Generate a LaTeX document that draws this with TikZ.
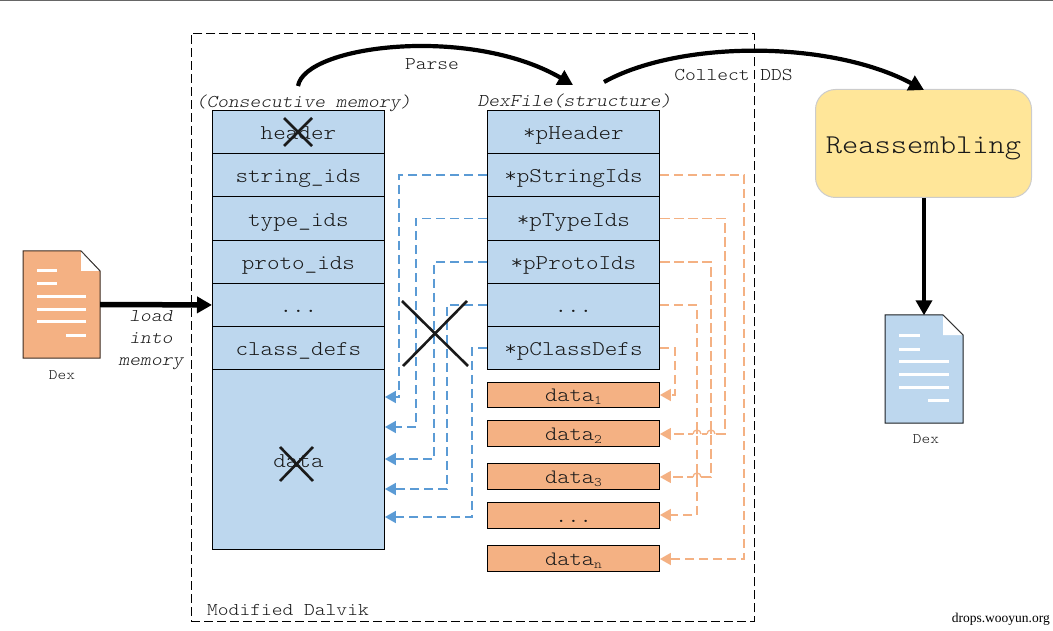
\documentclass[tikz,border=0pt]{standalone}
\usepackage{fontspec}
\setmainfont{Latin Modern Mono Light}[FakeStretch=1.14]
\newfontfamily\markfont{Liberation Serif}
\usetikzlibrary{arrows.meta,calc}
\definecolor{boxblue}{HTML}{BDD7EE}
\definecolor{boxorange}{HTML}{F4B183}
\definecolor{boxyellow}{HTML}{FFE699}
\definecolor{linkblue}{HTML}{5B9BD5}
\definecolor{inkdark}{HTML}{1A1A1A}
\newcommand{\threedots}{...}
\newcommand{\subtext}[1]{\raisebox{-3pt}{\fontsize{13}{13}\selectfont #1}}
\tikzset{
  cellbox/.style={draw=black,line width=.9pt,fill=boxblue,minimum width=172pt,inner sep=0pt,anchor=north west,text=inkdark,font=\fontsize{21}{21}\selectfont,text height=15.5pt,text depth=0pt},
  databox/.style={draw=black,line width=.9pt,fill=boxorange,minimum width=172pt,minimum height=26pt,inner sep=0pt,anchor=north west,text=inkdark,font=\fontsize{20.5}{20.5}\selectfont,text height=14pt,text depth=0pt},
  caption/.style={inner sep=0pt,text=inkdark,font=\fontsize{18}{18}\selectfont},
  heavy/.style={line width=4.2pt,-{Triangle[length=15pt,width=16pt]}},
  bluelink/.style={draw=linkblue,line width=1.8pt,dash pattern=on 9pt off 5pt,-{Triangle[length=11pt,width=12pt]}},
  orangelink/.style={draw=boxorange,line width=1.8pt,dash pattern=on 9pt off 5pt,-{Triangle[length=11pt,width=12pt]}},
  hop/.style={draw=boxorange,line width=1.3pt},
  strike/.style={draw=inkdark,line width=2.6pt},
  whitebar/.style={draw=white,line width=3pt},
  docbase/.style={draw=none,minimum width=77pt,minimum height=107pt,inner sep=0pt}
}
\begin{document}
\begin{tikzpicture}[x=1pt,y=-1pt]
\useasboundingbox (0,0) rectangle (1053,631);
\fill[gray!80!black] (0,0) rectangle (1053,1.2);
\node[draw=black,line width=.9pt,dash pattern=on 9pt off 4pt,minimum width=563pt,minimum height=588pt,inner sep=0pt,anchor=north west] (frame) at (191,33) {};
% left stack
\foreach \n/\y/\h/\t in {lhead/110/43/header,lstr/153/43/string\_ids,ltype/196/44/type\_ids,lproto/240/43/proto\_ids,ldots/283/43/\threedots,lclass/326/43/class\_defs,ldata/369/180/data}{
  \node[cellbox,minimum height=\h pt] (\n) at (212,\y) {\t};
}
% right stack
\foreach \n/\y/\h/\t in {rhead/110/43/*pHeader,rstr/153/43/*pStringIds,rtype/196/44/*pTypeIds,rproto/240/43/*pProtoIds,rdots/283/43/\threedots,rclass/326/43/*pClassDefs}{
  \node[cellbox,minimum height=\h pt] (\n) at (487,\y) {\t};
}
\node[databox,minimum height=25pt] (d1) at (487,382) {data\subtext{1}};
\node[databox] (d2) at (487,420) {data\subtext{2}};
\node[databox] (d3) at (487,463) {data\subtext{3}};
\node[databox] (d4) at (487,502) {\threedots};
\node[databox] (dn) at (487,545) {data\subtext{n}};
% captions
\node[caption,font=\fontsize{18}{18}\selectfont\itshape] (capl) at (303.5,103) {(Consecutive memory)};
\node[caption,font=\fontsize{18}{18}\selectfont\itshape] (capr) at (574.5,101) {DexFile(structure)};
\node[caption] (parse) at (432,64) {Parse};
\node[caption] (collect) at (733.5,75) {Collect DDS};
\node[caption,anchor=west] (dalvik) at (207,610) {Modified Dalvik};
\node[caption,align=center,font=\fontsize{18}{22}\selectfont\itshape] (load) at (151,340) {load\\into\\memory};
% documents
\node[docbase] (doca) at (61.5,304.5) {};
\fill[boxorange,draw=black!75!boxorange,line width=1pt] (23,251) -- (81,251) -- (100,271) -- (100,358) -- (23,358) -- cycle;
\fill[white] (81,251) -- (100,271) -- (81,271) -- cycle;
\draw[black!80,line width=.8pt] (81,251) -- (100,271);
\foreach \xa/\xb/\y in {37/57/271,37/57/284,37/86/297,37/86/310,37/86/322,66/86/335}{\draw[whitebar] (\xa,\y) -- (\xb,\y);}
\node[docbase] (docb) at (924,369) {};
\fill[boxblue,draw=black!85!boxblue,line width=1pt] (885,315) -- (943,315) -- (963,335) -- (963,423) -- (885,423) -- cycle;
\fill[white] (943,315) -- (963,335) -- (943,335) -- cycle;
\draw[black!80,line width=.8pt] (943,315) -- (963,335);
\foreach \xa/\xb/\y in {899/920/335,899/920/349,899/949/361,899/949/374,899/949/387,928/949/400}{\draw[whitebar] (\xa,\y) -- (\xb,\y);}
\node[caption,font=\fontsize{14.5}{14.5}\selectfont] (dexa) at (62,375) {Dex};
\node[caption,font=\fontsize{14.5}{14.5}\selectfont] (dexb) at (926,439) {Dex};
% reassembling
\node[draw=black!20,line width=1pt,fill=boxyellow,rounded corners=20pt,minimum width=216pt,minimum height=108pt,inner sep=0pt,anchor=north west,text=inkdark,font=\fontsize{27.2}{27.2}\selectfont,text height=20pt,text depth=0pt] (reasm) at (815,89) {Reassembling};
% watermark
\node[inner sep=0pt,anchor=east,font=\markfont\fontsize{13.5}{13.5}\selectfont] (mark) at (1050,619) {drops.wooyun.org};
% heavy arrows
\draw[heavy,line width=5.5pt] (doca.east) -- (ldots.west);
\draw[heavy] (reasm.south -| docb.north) -- (docb.north);
\coordinate (parsefrom) at (298,86);
\coordinate (parseto) at (573,85);
\coordinate (collectfrom) at (604,82);
\coordinate (collectto) at (924,90);
\draw[heavy] (parsefrom) .. controls (305,45) and (470,25) .. (parseto);
\draw[heavy] (collectfrom) .. controls (680,40) and (830,40) .. (collectto);
% blue links
\foreach \src/\xx/\yy in {rstr/399/397,rtype/416/427,rproto/434/459,rdots/447/489,rclass/472/517}{
  \draw[bluelink] (\src.west) -| (\xx,\yy) -- (ldata.east |- 0,\yy);
}
% orange links
\draw[orangelink] (rstr.east) -| (744,559) -- (dn.east |- 0,559);
\draw[orangelink,line width=1.3pt,dash pattern=on 10pt off 4pt] (rtype.east) -| (725,434) -- (d2.east |- 0,434);
\draw[orangelink,line width=1.3pt,dash pattern=on 10pt off 4pt] (rproto.east) -| (711,477) -- (d3.east |- 0,477);
\draw[orangelink] (rdots.east) -| (697,515) -- (d4.east |- 0,515);
\draw[orangelink] (rclass.east) -| (675,395) -- (d1.east |- 0,395);
\draw[white,line width=2.5pt] (693,434) -- (701,434) (707,434) -- (715,434) (693,477) -- (701,477);
\draw[orangelink,-,line width=1.8pt] (697,425) -- (697,445);
\draw[orangelink,-,line width=1.3pt] (711,425) -- (711,445);
\draw[orangelink,-,line width=1.8pt] (697,470) -- (697,486);
\draw[hop] (701,434) arc (0:-180:4);
\draw[hop] (715,434) arc (0:-180:4);
\draw[hop] (701,477) arc (0:-180:4);
% strikes
\draw[strike] (402,301) -- (468,366);
\draw[strike] (467,301) -- (403,366);
\draw[strike] (284,118) -- (312,146);
\draw[strike] (312,118) -- (284,146);
\draw[strike] (280,447) -- (313,481);
\draw[strike] (313,447) -- (280,481);
\end{tikzpicture}
\end{document}
